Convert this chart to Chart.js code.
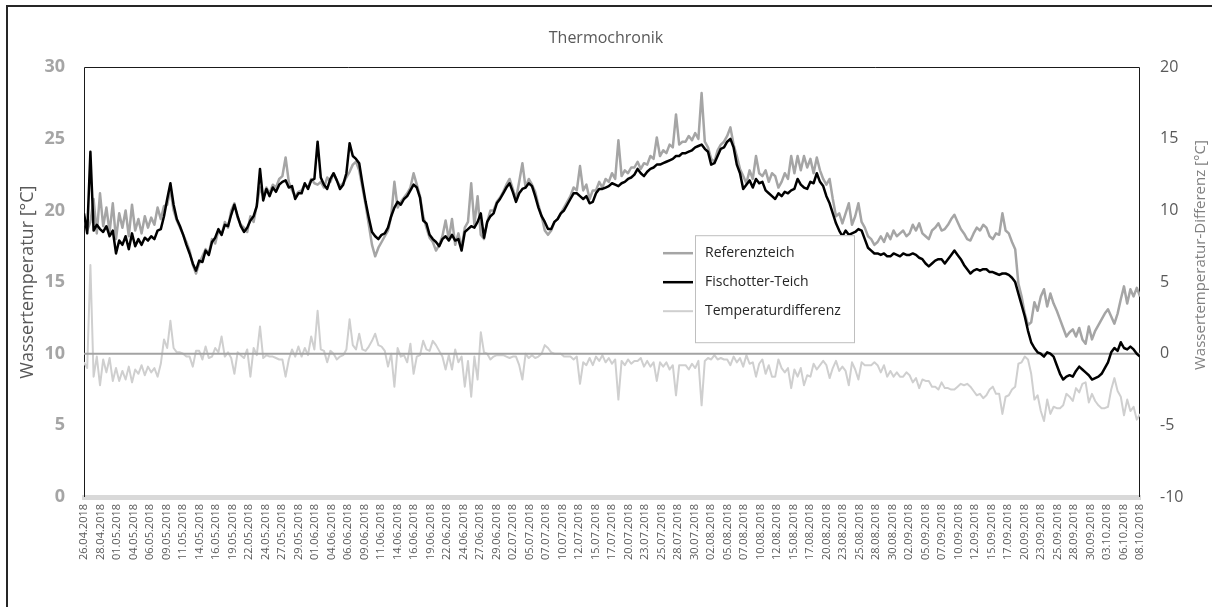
<!DOCTYPE html>
<html>
<head>
<meta charset="utf-8">
<title>Thermochronik</title>
<script src="https://cdn.jsdelivr.net/npm/chart.js@4/dist/chart.umd.min.js"></script>
<style>
  body { margin: 0; background: #fff; overflow: hidden; }
  #rahmen { position: absolute; left: 6px; top: 5px; width: 1300px; height: 700px; border-left: 2px solid #262626; border-top: 2px solid #262626; pointer-events: none; }
  canvas { position: absolute; left: 0; top: 0; }
</style>
</head>
<body>
<canvas id="thermo" width="1212" height="607"></canvas>
<div id="rahmen"></div>
<script>
// Datumsbeschriftungen der x-Achse
var dateLabels = ['26.04.2018','28.04.2018','01.05.2018','04.05.2018','06.05.2018','09.05.2018','11.05.2018','14.05.2018','16.05.2018','19.05.2018','22.05.2018','24.05.2018','27.05.2018','29.05.2018','01.06.2018','04.06.2018','06.06.2018','09.06.2018','11.06.2018','14.06.2018','16.06.2018','19.06.2018','22.06.2018','24.06.2018','27.06.2018','29.06.2018','02.07.2018','05.07.2018','07.07.2018','10.07.2018','12.07.2018','15.07.2018','17.07.2018','20.07.2018','23.07.2018','25.07.2018','28.07.2018','30.07.2018','02.08.2018','05.08.2018','07.08.2018','10.08.2018','12.08.2018','15.08.2018','17.08.2018','20.08.2018','23.08.2018','25.08.2018','28.08.2018','30.08.2018','02.09.2018','05.09.2018','07.09.2018','10.09.2018','12.09.2018','15.09.2018','17.09.2018','20.09.2018','23.09.2018','25.09.2018','28.09.2018','30.09.2018','03.10.2018','06.10.2018','08.10.2018'];

// Messwerte alle 12 Stunden ab 26.04.2018 (Wassertemperatur in °C)
var referenzteich = [
  19.6,18.6, 19.2,20.8, 18.4,21.2, 18.9,20.2, 18.5,20.5, 18.0,19.8, 18.8,20.0, 18.2,20.4, 18.6,19.4, 18.4,19.6, 18.8,19.5,
  19.0,20.2, 19.4,20.3, 20.4,21.5, 20.0,19.3, 18.8,18.3, 17.8,17.2, 16.2,15.6, 16.3,16.8, 17.3,17.0, 18.0,17.7,
  18.6,18.3, 19.2,18.8, 20.0,20.5, 19.5,19.0, 18.8,18.5, 19.6,19.2, 20.4,21.6, 21.0,21.6, 21.2,21.8, 21.6,22.2,
  22.4,23.7, 22.0,21.4, 21.0,21.3, 21.4,21.8, 21.6,22.2, 21.9,21.8, 22.0,21.6, 22.3,22.0, 22.6,22.1, 21.7,21.9,
  22.3,22.7, 23.2,23.4, 22.8,21.6, 20.4,19.0, 17.6,16.8, 17.4,17.8, 18.2,18.6, 19.6,22.0, 20.2,20.6, 20.9,21.2,
  21.6,22.6, 21.8,21.0, 19.6,18.8, 18.1,17.8, 17.2,17.6, 18.2,19.3, 18.0,19.4, 17.6,18.4, 17.4,18.8, 19.2,21.9,
  19.0,21.0, 18.3,18.0, 19.2,20.0, 20.0,20.6, 20.9,21.3, 21.8,22.2, 21.5,20.8, 22.0,23.3, 21.6,22.2, 21.8,21.3,
  20.4,19.6, 18.6,18.3, 18.6,19.2, 19.4,19.8, 20.2,20.6, 21.0,21.6, 21.4,23.1, 21.4,21.8, 20.8,21.4, 21.4,22.0,
  21.6,22.2, 22.0,22.6, 22.2,24.9, 22.4,22.8, 22.6,23.0, 23.0,23.4, 22.9,23.3, 23.2,23.8, 23.6,25.1, 23.8,24.2,
  24.0,24.6, 24.4,26.7, 24.6,24.8, 24.8,25.2, 24.9,25.4, 25.0,28.2, 24.8,24.4, 23.6,23.4, 24.2,24.6, 24.8,25.2,
  25.8,24.6, 23.8,22.9, 22.4,21.9, 22.8,22.2, 23.8,22.6, 22.4,22.8, 22.0,22.6, 22.4,21.6, 22.0,22.6, 22.2,23.8,
  22.6,23.8, 22.8,23.8, 23.0,23.6, 22.6,23.7, 22.8,22.2, 21.8,22.2, 20.8,19.6, 19.8,19.1, 19.8,20.5, 19.0,19.6,
  20.5,19.2, 18.8,18.2, 18.0,17.6, 17.8,18.2, 17.8,18.4, 18.0,18.6, 18.2,18.4, 18.6,18.2, 18.4,19.0, 18.6,19.1,
  18.4,18.2, 18.0,18.6, 18.8,19.1, 18.6,18.7, 19.0,19.4, 19.7,19.2, 18.7,18.4, 18.0,17.9, 18.4,18.8, 18.6,19.0,
  18.8,18.2, 18.0,18.4, 18.3,19.8, 18.6,18.4, 17.8,17.3, 14.9,14.0, 12.8,12.0, 12.2,13.6, 13.0,14.0, 14.5,13.3,
  14.2,13.5, 13.0,12.4, 11.8,11.2, 11.5,11.7, 11.2,11.8, 11.0,10.7, 11.9,11.0, 11.6,12.0, 12.4,12.8, 13.1,12.6,
  12.1,12.8, 13.8,14.7, 13.5,14.5, 14.0,14.6, 14.0
];

var fischotterTeich = [
  19.8,18.4, 24.1,18.6, 19.0,18.7, 18.5,18.9, 18.2,18.6, 17.0,17.9, 17.6,18.2, 17.3,18.4, 17.5,18.0, 17.6,18.1, 17.9,18.2,
  18.0,18.6, 18.7,19.6, 20.8,21.9, 20.4,19.4, 18.9,18.3, 17.6,17.0, 16.3,15.8, 16.5,16.4, 17.2,16.9, 17.8,18.1,
  18.7,18.3, 19.0,18.9, 19.7,20.4, 19.6,18.9, 18.5,18.8, 19.3,19.6, 20.3,22.9, 20.7,21.5, 21.0,21.6, 21.3,21.8,
  22.0,22.1, 21.6,21.7, 20.8,21.2, 21.2,21.9, 21.5,22.1, 22.2,24.8, 22.3,21.8, 21.5,22.2, 22.6,22.1, 21.5,21.8,
  22.6,24.7, 23.8,23.6, 23.3,21.9, 20.6,19.5, 18.5,18.2, 18.0,18.3, 18.4,18.8, 19.6,20.2, 20.6,20.4, 20.8,21.0,
  21.4,21.8, 21.6,20.9, 19.3,19.1, 18.3,18.0, 17.8,17.5, 18.0,18.2, 17.9,18.3, 17.9,18.0, 17.2,18.5, 18.7,18.9,
  18.8,19.2, 19.8,18.1, 19.2,19.6, 19.8,20.5, 20.8,21.2, 21.6,21.9, 21.3,20.6, 21.2,21.5, 21.6,21.9, 21.7,21.0,
  20.2,19.6, 19.2,18.7, 18.7,19.2, 19.4,19.8, 20.0,20.4, 20.8,21.2, 21.2,21.0, 20.8,21.0, 20.5,20.6, 21.2,21.5,
  21.5,21.6, 21.7,21.9, 21.8,21.7, 21.9,22.0, 22.2,22.3, 22.5,22.9, 22.6,22.4, 22.7,22.9, 23.0,23.2, 23.2,23.3,
  23.4,23.5, 23.6,23.8, 23.8,24.0, 24.0,24.1, 24.2,24.4, 24.5,24.6, 24.3,24.1, 23.2,23.3, 23.8,24.3, 24.4,24.8,
  25.0,24.4, 23.2,22.6, 21.5,21.8, 22.1,21.6, 22.2,21.9, 22.0,21.4, 21.2,21.0, 20.8,21.2, 21.0,21.3, 21.2,21.4,
  21.5,22.2, 21.8,21.6, 21.5,22.0, 21.9,22.6, 22.0,21.7, 21.0,20.5, 19.8,19.1, 18.6,18.2, 18.6,18.3, 18.4,18.5,
  18.7,18.6, 18.0,17.4, 17.2,17.0, 17.0,16.9, 17.0,16.8, 16.8,17.0, 16.9,16.8, 17.0,16.9, 16.9,17.0, 16.9,16.7,
  16.6,16.3, 16.1,16.3, 16.5,16.6, 16.6,16.3, 16.6,16.9, 17.2,16.9, 16.6,16.2, 15.9,15.6, 15.8,15.9, 15.8,15.9,
  15.9,15.7, 15.7,15.6, 15.5,15.6, 15.6,15.5, 15.3,15.0, 14.2,13.4, 12.6,11.6, 10.8,10.4, 10.1,10.0, 9.8,10.1,
  10.0,9.8, 9.2,8.6, 8.2,8.4, 8.5,8.4, 8.8,9.1, 8.9,8.7, 8.5,8.2, 8.3,8.4, 8.6,9.0, 9.4,10.1,
  10.4,10.2, 10.8,10.4, 10.3,10.5, 10.3,10.0, 9.8
];

// Temperaturdifferenz (rechte Achse)
var temperaturdifferenz = [
  -0.6,-1.0, 6.2,-1.6, -0.2,-2.2, -0.4,-1.3, -0.3,-1.9, -1.0,-1.9, -1.2,-1.8, -0.9,-2.0, -1.1,-1.4, -0.8,-1.5, -0.9,-1.3,
  -1.0,-1.6, -0.7,1.0, 0.4,2.3, 0.4,0.1, 0.1,0.0, -0.2,-0.2, -0.9,0.2, 0.2,-0.4, 0.5,-0.3, -0.2,0.4,
  0.1,1.2, -0.2,0.1, -0.3,-1.4, 0.1,-0.1, -0.3,0.3, -1.6,0.4, -0.1,1.9, -0.3,-0.1, -0.2,-0.2, -0.3,-0.4,
  -0.4,-1.6, -0.4,0.3, -0.2,0.5, -0.2,0.4, -0.1,1.2, 0.3,3.0, 0.3,0.2, -0.6,0.2, 0.0,-0.4, -0.2,-0.1,
  0.3,2.4, 0.6,0.3, 1.4,0.3, 0.2,0.5, 0.9,1.4, 0.6,0.5, 0.2,-0.9, 0.0,-2.3, 0.4,-0.2, -0.1,-0.6,
  0.7,-1.4, -0.2,-0.1, 0.9,0.3, 0.2,0.9, 0.6,0.2, -0.2,-1.1, -0.1,-1.1, 0.3,-0.6, -0.2,-2.3, -0.5,-3.0,
  -0.2,-1.8, 1.5,0.1, 0.0,-0.4, -0.2,-0.1, -0.1,-0.1, -0.2,-0.3, -0.2,-0.2, -0.8,-1.8, 0.0,-0.3, -0.1,-0.3,
  -0.2,0.0, 0.6,0.4, 0.1,0.0, 0.0,0.0, -0.2,-0.2, -0.2,-0.4, -0.2,-2.1, -0.6,-0.8, -0.3,-0.8, -0.2,-0.5,
  -0.1,-0.6, -0.3,-0.7, -0.4,-3.2, -0.5,-0.8, -0.4,-0.7, -0.5,-0.5, -0.3,-0.9, -0.5,-0.9, -0.6,-1.9, -0.6,-0.9,
  -0.6,-1.1, -0.8,-2.9, -0.8,-0.8, -0.8,-1.1, -0.7,-1.0, -0.5,-3.6, -0.5,-0.3, -0.4,-0.1, -0.4,-0.3, -0.4,-0.4,
  -0.8,-0.2, -0.6,-0.3, -0.9,-0.1, -0.7,-0.6, -1.6,-0.7, -0.4,-1.4, -0.8,-1.6, -1.6,-0.4, -1.0,-1.3, -1.0,-2.4,
  -1.1,-1.6, -1.0,-2.2, -1.5,-1.6, -0.7,-1.1, -0.8,-0.5, -0.8,-1.7, -1.0,-0.5, -1.2,-0.9, -1.2,-2.2, -0.6,-1.1,
  -1.8,-0.6, -0.8,-0.8, -0.8,-0.6, -0.8,-1.3, -0.8,-1.6, -1.2,-1.6, -1.3,-1.6, -1.6,-1.3, -1.5,-2.0, -1.7,-2.4,
  -1.8,-1.9, -1.9,-2.3, -2.3,-2.5, -2.0,-2.4, -2.4,-2.5, -2.5,-2.3, -2.1,-2.2, -2.1,-2.3, -2.6,-2.9, -2.8,-3.1,
  -2.9,-2.5, -2.3,-2.8, -2.8,-4.2, -3.0,-2.9, -2.5,-2.3, -0.7,-0.6, -0.2,-0.4, -1.4,-3.2, -2.9,-4.0, -4.7,-3.2,
  -4.2,-3.7, -3.8,-3.8, -3.6,-2.8, -3.0,-3.3, -2.4,-2.7, -2.1,-2.0, -3.4,-2.8, -3.3,-3.6, -3.8,-3.8, -3.7,-2.5,
  -1.7,-2.6, -3.0,-4.3, -3.2,-4.0, -3.7,-4.6, -4.2
];

// Tage seit 26.04.2018 für jeden Messwert (halbtägig)
var tage = referenzteich.map(function(v, i) { return i / 2; });
var letzterTag = tage[tage.length - 1];

var schrift = "'Open Sans', sans-serif";

// Nulllinie der rechten Achse, gezeichnet nach der Differenzkurve
var nullLinie = {
  id: 'nullLinie',
  afterDatasetDraw: function(chart, args) {
    if (args.index !== 2) return;
    var ctx = chart.ctx;
    var area = chart.chartArea;
    var y = chart.scales.y2.getPixelForValue(0);
    ctx.save();
    ctx.strokeStyle = '#a3a3a3';
    ctx.lineWidth = 2;
    ctx.beginPath();
    ctx.moveTo(area.left, y);
    ctx.lineTo(area.right, y);
    ctx.stroke();
    ctx.restore();
  }
};

// Rahmen des Diagrammbereichs (links, oben, rechts)
var rahmen = {
  id: 'rahmen',
  beforeDatasetsDraw: function(chart) {
    var ctx = chart.ctx;
    var a = chart.chartArea;
    ctx.save();
    ctx.strokeStyle = '#1a1a1a';
    ctx.lineWidth = 1;
    ctx.beginPath();
    ctx.moveTo(Math.round(a.left) + 0.5, a.bottom);
    ctx.lineTo(Math.round(a.left) + 0.5, Math.round(a.top) + 0.5);
    ctx.lineTo(Math.round(a.right) - 0.5, Math.round(a.top) + 0.5);
    ctx.lineTo(Math.round(a.right) - 0.5, a.bottom);
    ctx.stroke();
    ctx.restore();
  }
};

// Legende im Diagramm und Titel der rechten Achse
var legende = {
  id: 'legende',
  afterDatasetsDraw: function(chart) {
    var ctx = chart.ctx;
    var a = chart.chartArea;
    var bx = a.left + 611, by = a.top + 168, bw = 159, bh = 107;
    ctx.save();
    ctx.fillStyle = '#ffffff';
    ctx.fillRect(bx, by, bw, bh);
    ctx.strokeStyle = '#bfbfbf';
    ctx.lineWidth = 1;
    ctx.strokeRect(bx + 0.5, by + 0.5, bw, bh);
    ctx.font = '14px ' + schrift;
    ctx.textBaseline = 'middle';
    ctx.textAlign = 'left';
    chart.data.datasets.forEach(function(ds, i) {
      var y = by + 18 + 29 * i;
      ctx.strokeStyle = ds.borderColor;
      ctx.lineWidth = ds.borderWidth;
      ctx.beginPath();
      ctx.moveTo(bx - 32, y);
      ctx.lineTo(bx - 2, y);
      ctx.stroke();
      ctx.fillStyle = '#262626';
      ctx.fillText(ds.label, bx + 10, y);
    });
    ctx.restore();
  },
  afterDraw: function(chart) {
    var ctx = chart.ctx;
    var a = chart.chartArea;
    ctx.save();
    ctx.translate(chart.width - 11, (a.top + a.bottom) / 2 - 27);
    ctx.rotate(-Math.PI / 2);
    ctx.font = '15px ' + schrift;
    ctx.fillStyle = '#7f7f7f';
    ctx.textAlign = 'center';
    ctx.textBaseline = 'middle';
    ctx.fillText('Wassertemperatur-Differenz [°C]', 0, 0);
    ctx.restore();
  }
};

var thermoChart = new Chart(document.getElementById('thermo'), {
  type: 'line',
  data: {
    labels: tage,
    datasets: [{
      label: 'Referenzteich',
      data: referenzteich,
      borderColor: '#a5a5a5',
      borderWidth: 2.5,
      yAxisID: 'y',
      order: 1
    }, {
      label: 'Fischotter-Teich',
      data: fischotterTeich,
      borderColor: '#000000',
      borderWidth: 2.5,
      yAxisID: 'y',
      order: 0
    }, {
      label: 'Temperaturdifferenz',
      data: temperaturdifferenz,
      borderColor: '#cfcfcf',
      borderWidth: 2,
      yAxisID: 'y2',
      order: 2
    }]
  },
  options: {
    responsive: false,
    animation: false,
    events: [],
    elements: {
      point: { radius: 0 },
      line: { tension: 0, fill: false, borderJoinStyle: 'round' }
    },
    layout: { padding: 0 },
    plugins: {
      legend: { display: false },
      tooltip: { enabled: false },
      title: {
        display: true,
        text: 'Thermochronik',
        color: '#595959',
        font: { family: schrift, size: 16, weight: 'normal' },
        padding: { top: 29, bottom: 19 }
      }
    },
    scales: {
      x: {
        type: 'linear',
        min: 0,
        max: letzterTag,
        afterBuildTicks: function(scale) {
          scale.ticks = dateLabels.map(function(d, i) {
            return { value: i * letzterTag / (dateLabels.length - 1) };
          });
        },
        afterFit: function(scale) { scale.height = 110; },
        grid: { display: false, drawTicks: false },
        border: { display: true, color: '#d9d9d9', width: 5 },
        ticks: {
          autoSkip: false,
          maxRotation: 90,
          minRotation: 90,
          padding: 7,
          color: '#595959',
          font: { family: schrift, size: 11 },
          callback: function(value, index) { return dateLabels[index]; }
        }
      },
      y: {
        position: 'left',
        min: 0,
        max: 30,
        afterFit: function(scale) { scale.width = 84; },
        grid: { display: false, drawTicks: false },
        border: { display: false },
        ticks: {
          stepSize: 5,
          padding: 19,
          color: '#a5a5a5',
          font: { family: schrift, size: 18, weight: 'bold' }
        },
        title: {
          display: true,
          text: 'Wassertemperatur [°C]',
          color: '#595959',
          font: { family: schrift, size: 18 },
          padding: { top: 17, bottom: 0 }
        }
      },
      y2: {
        position: 'right',
        min: -10,
        max: 20,
        afterFit: function(scale) { scale.width = 72; },
        grid: { display: false, drawTicks: false },
        border: { display: false },
        ticks: {
          stepSize: 5,
          padding: 20,
          color: '#595959',
          font: { family: schrift, size: 16 }
        }
      }
    }
  },
  plugins: [rahmen, nullLinie, legende]
});
</script>
</body>
</html>
